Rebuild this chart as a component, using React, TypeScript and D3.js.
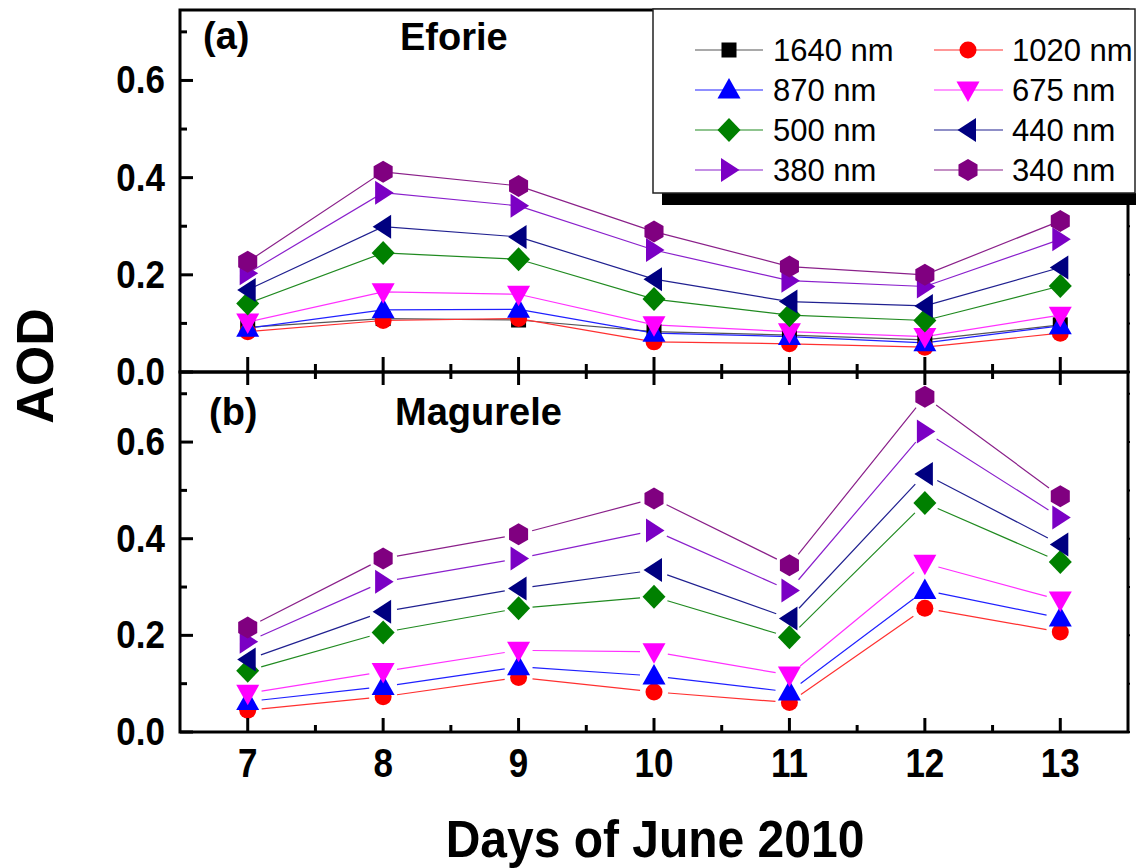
import React from "react";
import * as d3 from "d3";

const days = [7, 8, 9, 10, 11, 12, 13];
const seriesNames = ["1640 nm", "1020 nm", "870 nm", "675 nm", "500 nm", "440 nm", "380 nm", "340 nm"];
const seriesColors = ["#000000", "#FF0000", "#0000FF", "#FF00FF", "#008000", "#000080", "#7B00C4", "#800080"];
const seriesLineColors = ["#555555", "#FF3030", "#2020FF", "#FF30FF", "#208A20", "#202090", "#8A20CC", "#8A208A"];
const seriesShapes = ["square", "circle", "up", "down", "diamond", "left", "right", "hexagon"];

// Panel (a) Eforie
const eforie1640 = [0.092, 0.110, 0.107, 0.083, 0.076, 0.066, 0.097];
const eforie1020 = [0.083, 0.106, 0.110, 0.062, 0.058, 0.051, 0.080];
const eforie870 = [0.090, 0.128, 0.129, 0.080, 0.073, 0.060, 0.095];
const eforie675 = [0.103, 0.165, 0.160, 0.097, 0.083, 0.073, 0.117];
const eforie500 = [0.141, 0.245, 0.232, 0.150, 0.117, 0.106, 0.177];
const eforie440 = [0.169, 0.299, 0.278, 0.191, 0.145, 0.136, 0.215];
const eforie380 = [0.203, 0.369, 0.342, 0.251, 0.188, 0.176, 0.273];
const eforie340 = [0.227, 0.412, 0.383, 0.289, 0.217, 0.200, 0.311];

// Panel (b) Magurele (no 1640 nm)
const magurele1020 = [0.045, 0.073, 0.113, 0.083, 0.061, 0.256, 0.207];
const magurele870 = [0.063, 0.094, 0.135, 0.116, 0.083, 0.293, 0.236];
const magurele675 = [0.080, 0.125, 0.169, 0.166, 0.118, 0.349, 0.273];
const magurele500 = [0.127, 0.206, 0.256, 0.280, 0.196, 0.474, 0.352];
const magurele440 = [0.150, 0.249, 0.297, 0.335, 0.235, 0.534, 0.388];
const magurele380 = [0.187, 0.311, 0.359, 0.417, 0.293, 0.622, 0.444];
const magurele340 = [0.216, 0.359, 0.409, 0.483, 0.345, 0.694, 0.488];

const eforieData = [eforie1640, eforie1020, eforie870, eforie675, eforie500, eforie440, eforie380, eforie340];
const magureleData = [null, magurele1020, magurele870, magurele675, magurele500, magurele440, magurele380, magurele340];

const yMajorTicks = [0, 0.2, 0.4, 0.6];
const yMinorTicks = [0.1, 0.3, 0.5, 0.7];
const xMajorTicks = [7, 8, 9, 10, 11, 12, 13];
const xMinorTicks = [7.5, 8.5, 9.5, 10.5, 11.5, 12.5];

const FONT = "'Liberation Sans', Arial, Helvetica, sans-serif";

function Marker({ shape, x, y, color }: { shape: string; x: number; y: number; color: string }) {
  const t = `translate(${x},${y})`;
  switch (shape) {
    case "square":
      return <rect x={x - 7.5} y={y - 7.5} width={15} height={15} fill={color} />;
    case "circle":
      return <circle cx={x} cy={y} r={8.5} fill={color} />;
    case "up":
      return <polygon transform={t} points="0,-12 11.5,8.5 -11.5,8.5" fill={color} />;
    case "down":
      return <polygon transform={t} points="0,12 11.5,-8.5 -11.5,-8.5" fill={color} />;
    case "diamond":
      return <polygon transform={t} points="0,-12 11.5,0 0,12 -11.5,0" fill={color} />;
    case "left":
      return <polygon transform={t} points="-10.5,0 8,-12 8,12" fill={color} />;
    case "right":
      return <polygon transform={t} points="10.5,0 -8,-12 -8,12" fill={color} />;
    case "hexagon": {
      const r = 11;
      const pts = d3.range(6).map((i) => {
        const a = ((-90 + i * 60) * Math.PI) / 180;
        return `${(r * Math.cos(a)).toFixed(2)},${(r * Math.sin(a)).toFixed(2)}`;
      });
      return <polygon transform={t} points={pts.join(" ")} fill={color} />;
    }
    default:
      return null;
  }
}

export default function App() {
  const left = 180;
  const right = 1128;
  const topA = 10;
  const mid = 372;
  const bottomB = 732;

  const x = d3.scaleLinear().domain([6.5, 13.5]).range([left, right]);
  const yA = d3.scaleLinear().domain([0, 0.745]).range([mid, topA]);
  const yB = d3.scaleLinear().domain([0, 0.745]).range([bottomB, mid]);

  const line = (ys: d3.ScaleLinear<number, number>) =>
    d3
      .line<number>()
      .x((_, i) => x(days[i]))
      .y((v) => ys(v));

  const gapSegments = (vals: number[], ys: d3.ScaleLinear<number, number>, gap: number) => {
    const segs: string[] = [];
    for (let i = 0; i < vals.length - 1; i++) {
      const x1 = x(days[i]);
      const y1 = ys(vals[i]);
      const x2 = x(days[i + 1]);
      const y2 = ys(vals[i + 1]);
      const len = Math.hypot(x2 - x1, y2 - y1);
      const ux = (x2 - x1) / len;
      const uy = (y2 - y1) / len;
      segs.push(`M${x1 + ux * gap},${y1 + uy * gap}L${x2 - ux * gap},${y2 - uy * gap}`);
    }
    return segs.join("");
  };

  const tickW = 3;

  const yAxisTicks = (ys: d3.ScaleLinear<number, number>, key: string) => (
    <g key={key}>
      {yMajorTicks.map((v) => (
        <line key={"M" + v} x1={left} x2={left + 13} y1={ys(v)} y2={ys(v)} stroke="#000" strokeWidth={tickW} />
      ))}
      {yMinorTicks.map((v) => (
        <line key={"m" + v} x1={left} x2={left + 7} y1={ys(v)} y2={ys(v)} stroke="#000" strokeWidth={tickW} />
      ))}
      {[...yMajorTicks, ...yMinorTicks].map((v) => (
        <line key={"r" + v} x1={right} x2={right + 2} y1={ys(v)} y2={ys(v)} stroke="#000" strokeWidth={2} />
      ))}
      {yMajorTicks.map((v) => (
        <text
          key={"l" + v}
          transform={`translate(165,${ys(v) + 13}) scale(1,1.12)`}
          textAnchor="end"
          fontFamily={FONT}
          fontWeight="bold"
          fontSize={35}
        >
          {v.toFixed(1)}
        </text>
      ))}
    </g>
  );

  const xTicks = (yPos: number, dir: number, majorLen: number, minorLen: number, key: string) => (
    <g key={key}>
      {xMajorTicks.map((v) => (
        <line key={"M" + v} x1={x(v)} x2={x(v)} y1={yPos} y2={yPos + dir * majorLen} stroke="#000" strokeWidth={tickW} />
      ))}
      {xMinorTicks.map((v) => (
        <line key={"m" + v} x1={x(v)} x2={x(v)} y1={yPos} y2={yPos + dir * minorLen} stroke="#000" strokeWidth={tickW} />
      ))}
    </g>
  );

  const legendRows = [
    [0, 1],
    [2, 3],
    [4, 5],
    [6, 7],
  ];
  const legendCols = [
    { lineX1: 695, lineX2: 763, symX: 729, textX: 773 },
    { lineX1: 934, lineX2: 1003, symX: 968, textX: 1012 },
  ];
  const legendRowY = [50, 90, 130, 170];

  return (
    <svg
      width={1136}
      height={868}
      style={{ position: "absolute", left: 0, top: 0, background: "#fff" }}
      xmlns="http://www.w3.org/2000/svg"
    >
      <rect x={0} y={0} width={1136} height={868} fill="#fff" />

      {/* Panel (a) data */}
      <g>
        {eforieData.map((vals, si) => (
          <path key={"la" + si} d={line(yA)(vals) || ""} fill="none" stroke={seriesLineColors[si]} strokeWidth={1.2} />
        ))}
        {eforieData.map((vals, si) =>
          vals.map((v, i) => (
            <Marker key={"ma" + si + "-" + i} shape={seriesShapes[si]} x={x(days[i])} y={yA(v)} color={seriesColors[si]} />
          ))
        )}
      </g>

      {/* Panel (b) data */}
      <g>
        {magureleData.map((vals, si) =>
          vals ? (
            <path key={"lb" + si} d={gapSegments(vals, yB, 14)} fill="none" stroke={seriesLineColors[si]} strokeWidth={1.2} />
          ) : null
        )}
        {magureleData.map((vals, si) =>
          vals
            ? vals.map((v, i) => (
                <Marker key={"mb" + si + "-" + i} shape={seriesShapes[si]} x={x(days[i])} y={yB(v)} color={seriesColors[si]} />
              ))
            : null
        )}
      </g>

      {/* Frames */}
      <rect x={left} y={topA} width={right - left} height={mid - topA} fill="none" stroke="#000" strokeWidth={3} />
      <rect x={left} y={mid} width={right - left} height={bottomB - mid} fill="none" stroke="#000" strokeWidth={3} />

      {yAxisTicks(yA, "ya")}
      {yAxisTicks(yB, "yb")}
      {xTicks(mid, -1, 15, 8, "xa")}
      {xTicks(mid, 1, 13, 7, "xbt")}
      {xTicks(bottomB, -1, 14, 7, "xb")}

      {xMajorTicks.map((v) => (
        <text
          key={"xl" + v}
          transform={`translate(${x(v)},777) scale(1,1.15)`}
          textAnchor="middle"
          fontFamily={FONT}
          fontWeight="bold"
          fontSize={35}
        >
          {v}
        </text>
      ))}

      {/* Panel labels */}
      <text x={203} y={49} fontFamily={FONT} fontWeight="bold" fontSize={38}>(a)</text>
      <text x={400} y={50} fontFamily={FONT} fontWeight="bold" fontSize={38}>Eforie</text>
      <text x={209} y={425} fontFamily={FONT} fontWeight="bold" fontSize={38}>(b)</text>
      <text x={395} y={425} fontFamily={FONT} fontWeight="bold" fontSize={38}>Magurele</text>

      {/* Axis titles */}
      <text
        transform="translate(53,366) rotate(-90)"
        textAnchor="middle"
        fontFamily={FONT}
        fontWeight="bold"
        fontSize={52}
      >
        AOD
      </text>
      <text
        transform="translate(655,857) scale(1,1.08)"
        textAnchor="middle"
        fontFamily={FONT}
        fontWeight="bold"
        fontSize={48}
      >
        Days of June 2010
      </text>

      {/* Legend */}
      <rect x={662} y={193} width={480} height={12} fill="#000" />
      <rect x={653} y={9} width={482} height={184} fill="#fff" stroke="#222" strokeWidth={1.5} />
      {legendRows.map((row, ri) =>
        row.map((si, ci) => {
          const c = legendCols[ci];
          const ry = legendRowY[ri];
          return (
            <g key={"lg" + si}>
              <line x1={c.lineX1} x2={c.lineX2} y1={ry} y2={ry} stroke={seriesLineColors[si]} strokeWidth={1.2} />
              <Marker shape={seriesShapes[si]} x={c.symX} y={ry} color={seriesColors[si]} />
              <text x={c.textX} y={ry + 11} fontFamily={FONT} fontSize={31}>
                {seriesNames[si]}
              </text>
            </g>
          );
        })
      )}
    </svg>
  );
}
